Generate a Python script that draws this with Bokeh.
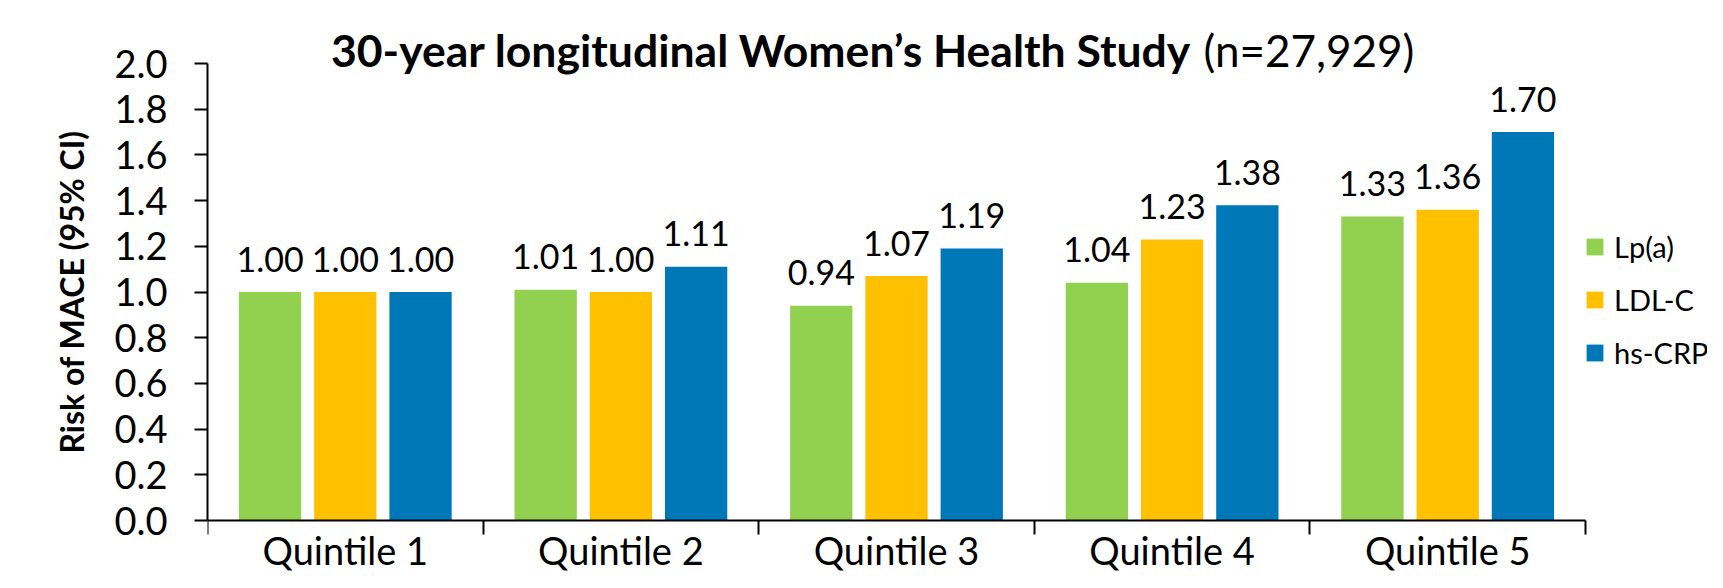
import numpy as np
from bokeh.plotting import figure
from bokeh.models import (Range1d, FixedTicker, PrintfTickFormatter, Legend,
                          LegendItem, Label, ColumnDataSource)
from bokeh.core.properties import value
from bokeh.embed import file_html
from bokeh.resources import INLINE

# ---- data ----
quintiles = ["Quintile 1", "Quintile 2", "Quintile 3", "Quintile 4", "Quintile 5"]
series_names = ["Lp(a)", "LDL-C", "hs-CRP"]
lpa = [1.00, 1.01, 0.94, 1.04, 1.33]
ldl = [1.00, 1.00, 1.07, 1.23, 1.36]
crp = [1.00, 1.11, 1.19, 1.38, 1.70]
colors = ["#92D050", "#FFC000", "#0077B6"]
y_ticks = [0.0, 0.2, 0.4, 0.6, 0.8, 1.0, 1.2, 1.4, 1.6, 1.8, 2.0]
y_max = 2.0
title_bold = "30-year longitudinal Women\u2019s Health Study"
title_normal = "(n=27,929)"
y_label = "Risk of MACE (95% CI)"

FONT = "Lato"

# ---- layout (pixels) ----
W, H = 1707, 572
LEFT = 207          # y axis position
AXIS_Y = 520        # x axis position (canvas px)
PX_PER_Y = 228.5    # pixels per y unit
PX_PER_CAT = 275.6  # pixels per category
n = len(quintiles)

y_start = -(H - AXIS_Y) / PX_PER_Y        # frame reaches bottom of canvas
y_end = y_max - y_start                   # symmetric about the 0..2 span
top_border = int(round(AXIS_Y - y_end * PX_PER_Y))
x_end = (W - LEFT) / PX_PER_CAT           # frame reaches right of canvas

p = figure(width=W, height=H, output_backend="svg", toolbar_location=None,
           x_range=Range1d(0, x_end), y_range=Range1d(y_start, y_end),
           min_border_left=LEFT, min_border_right=0,
           min_border_top=top_border, min_border_bottom=0)
p.outline_line_color = None
p.xgrid.visible = False
p.ygrid.visible = False
p.background_fill_color = None
p.border_fill_color = "white"

idx = np.arange(n)
offsets = [-0.273, 0.0, 0.273]
bar_w = 0.226
renderers = []
for vals, off, col in zip([lpa, ldl, crp], offsets, colors):
    xs = idx + 0.5 + off
    src = ColumnDataSource(dict(x=xs, top=vals,
                                lab=["%.2f" % v for v in vals]))
    r = p.vbar(x="x", top="top", width=bar_w, bottom=0, source=src,
               fill_color=col, line_color=None)
    renderers.append(r)
    p.text(x="x", y="top", text="lab", source=src, text_align="center",
           text_baseline="alphabetic", y_offset=-33,
           text_font=value(FONT), text_font_size="34px", text_color="black")

# y axis
ya = p.yaxis[0]
ya.bounds = (0, y_max)
ya.ticker = FixedTicker(ticks=y_ticks)
ya.formatter = PrintfTickFormatter(format="%.1f")
ya.axis_line_width = 2
ya.axis_line_color = "black"
ya.major_tick_line_width = 2
ya.major_tick_out = 13
ya.major_tick_in = 0
ya.minor_tick_out = 0
ya.minor_tick_in = 0
ya.major_label_standoff = 27
ya.major_label_text_font = FONT
ya.major_label_text_font_size = "38px"
ya.major_label_text_color = "black"
ya.axis_label = y_label
ya.axis_label_text_font = FONT
ya.axis_label_text_font_style = "bold"
ya.axis_label_text_font_size = "32px"
ya.axis_label_text_color = "black"
ya.axis_label_standoff = 20

# x axis at y=0: labels at centres, ticks at boundaries
xa = p.xaxis[0]
xa.fixed_location = 0
xa.bounds = (0, n)
xa.ticker = FixedTicker(ticks=list(idx + 0.5),
                        minor_ticks=list(range(n + 1)))
xa.major_label_overrides = {float(i + 0.5): q for i, q in enumerate(quintiles)}
xa.axis_line_width = 2
xa.axis_line_color = "black"
xa.major_tick_out = 0
xa.major_tick_in = 0
xa.minor_tick_out = 14
xa.minor_tick_in = 0
xa.minor_tick_line_width = 2
xa.minor_tick_line_color = "black"
xa.major_label_standoff = -8
xa.major_label_text_font = FONT
xa.major_label_text_font_size = "38px"
xa.major_label_text_color = "black"

# legend
legend = Legend(items=[LegendItem(label=s, renderers=[r])
                       for s, r in zip(series_names, renderers)],
                location=(1377, 202), glyph_width=21, glyph_height=21,
                label_standoff=9, spacing=18, padding=0, margin=0,
                border_line_color=None, background_fill_alpha=0,
                label_text_font=FONT, label_text_font_size="29px",
                label_text_color="black")
p.add_layout(legend)

# title (bold part + normal part)
t_y = (AXIS_Y - 49) / PX_PER_Y
split_l = (1191 - LEFT) / PX_PER_CAT
split_r = (1203 - LEFT) / PX_PER_CAT
p.add_layout(Label(x=split_l, y=t_y, text=title_bold, text_align="right",
                   text_baseline="alphabetic", text_font=FONT,
                   text_font_style="bold", text_font_size="44.5px",
                   text_color="black"))
p.add_layout(Label(x=split_r, y=t_y, text=title_normal, text_align="left",
                   text_baseline="alphabetic", text_font=FONT,
                   text_font_size="44px", text_color="black"))

open("out.html", "w").write(file_html(p, INLINE))
